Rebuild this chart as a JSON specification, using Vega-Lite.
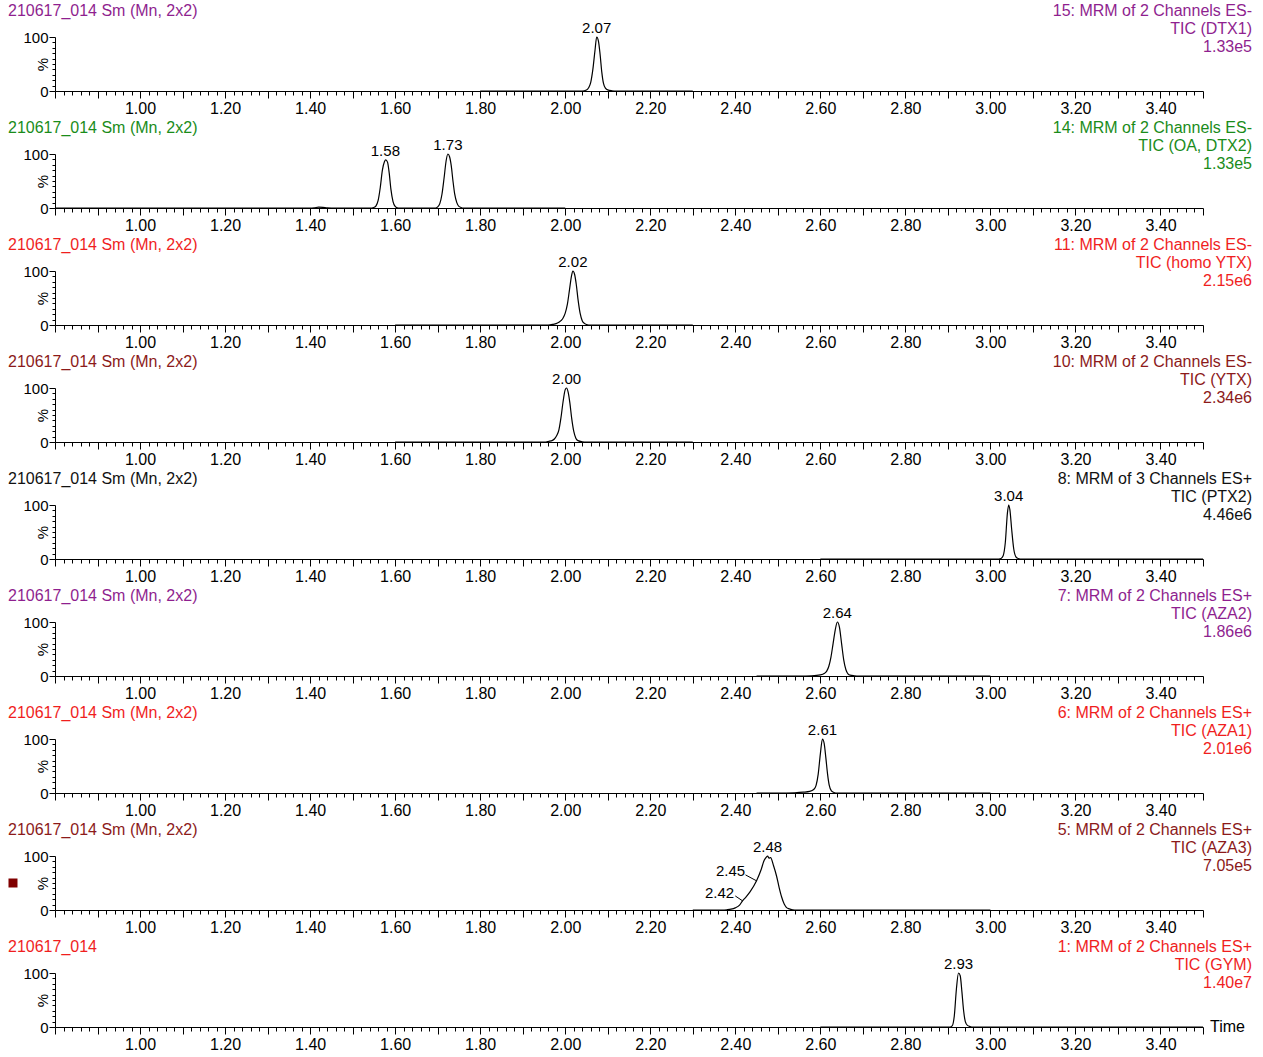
{
"$schema": "https://vega.github.io/schema/vega-lite/v6.json",
"padding": {"left": 8, "top": 3, "right": 0, "bottom": 0},
"datasets": {
"trace": [
{"p":1,"t":1.8,"v":0},{"p":1,"t":2.0,"v":0},{"p":1,"t":2.04,"v":0},{"p":1,"t":2.05,"v":2},{"p":1,"t":2.055,"v":6},{"p":1,"t":2.06,"v":16},{"p":1,"t":2.065,"v":40},{"p":1,"t":2.07,"v":75},{"p":1,"t":2.074,"v":100},{"p":1,"t":2.078,"v":93},{"p":1,"t":2.082,"v":68},{"p":1,"t":2.086,"v":35},{"p":1,"t":2.09,"v":14},{"p":1,"t":2.095,"v":5},{"p":1,"t":2.1,"v":2},{"p":1,"t":2.11,"v":0.5},{"p":1,"t":2.12,"v":0},{"p":1,"t":2.3,"v":0},
{"p":2,"t":0.8,"v":0},{"p":2,"t":1.4,"v":0},{"p":2,"t":1.41,"v":0.5},{"p":2,"t":1.42,"v":1.5},{"p":2,"t":1.43,"v":1.2},{"p":2,"t":1.44,"v":0.3},{"p":2,"t":1.45,"v":0},{"p":2,"t":1.545,"v":0},{"p":2,"t":1.55,"v":1},{"p":2,"t":1.555,"v":4},{"p":2,"t":1.56,"v":14},{"p":2,"t":1.565,"v":38},{"p":2,"t":1.57,"v":70},{"p":2,"t":1.575,"v":86},{"p":2,"t":1.578,"v":89},{"p":2,"t":1.582,"v":85},{"p":2,"t":1.586,"v":65},{"p":2,"t":1.59,"v":35},{"p":2,"t":1.595,"v":12},{"p":2,"t":1.6,"v":3},{"p":2,"t":1.605,"v":0.5},{"p":2,"t":1.61,"v":0},{"p":2,"t":1.695,"v":0},{"p":2,"t":1.7,"v":2},{"p":2,"t":1.705,"v":8},{"p":2,"t":1.71,"v":25},{"p":2,"t":1.715,"v":55},{"p":2,"t":1.72,"v":88},{"p":2,"t":1.724,"v":100},{"p":2,"t":1.728,"v":95},{"p":2,"t":1.732,"v":78},{"p":2,"t":1.736,"v":50},{"p":2,"t":1.74,"v":26},{"p":2,"t":1.745,"v":10},{"p":2,"t":1.75,"v":3},{"p":2,"t":1.755,"v":1},{"p":2,"t":1.76,"v":0},{"p":2,"t":2.0,"v":0},
{"p":3,"t":1.6,"v":0},{"p":3,"t":1.96,"v":0},{"p":3,"t":1.97,"v":1},{"p":3,"t":1.98,"v":3},{"p":3,"t":1.99,"v":8},{"p":3,"t":1.995,"v":13},{"p":3,"t":2.0,"v":22},{"p":3,"t":2.005,"v":38},{"p":3,"t":2.01,"v":65},{"p":3,"t":2.015,"v":92},{"p":3,"t":2.018,"v":100},{"p":3,"t":2.022,"v":94},{"p":3,"t":2.026,"v":75},{"p":3,"t":2.03,"v":48},{"p":3,"t":2.035,"v":22},{"p":3,"t":2.04,"v":8},{"p":3,"t":2.045,"v":3},{"p":3,"t":2.05,"v":1},{"p":3,"t":2.06,"v":0},{"p":3,"t":2.3,"v":0},
{"p":4,"t":1.6,"v":0},{"p":4,"t":1.955,"v":0},{"p":4,"t":1.96,"v":1},{"p":4,"t":1.97,"v":3},{"p":4,"t":1.975,"v":6},{"p":4,"t":1.98,"v":12},{"p":4,"t":1.985,"v":22},{"p":4,"t":1.99,"v":45},{"p":4,"t":1.995,"v":75},{"p":4,"t":2.0,"v":97},{"p":4,"t":2.003,"v":100},{"p":4,"t":2.007,"v":92},{"p":4,"t":2.011,"v":72},{"p":4,"t":2.015,"v":45},{"p":4,"t":2.02,"v":20},{"p":4,"t":2.025,"v":7},{"p":4,"t":2.03,"v":2.5},{"p":4,"t":2.04,"v":0.5},{"p":4,"t":2.05,"v":0},{"p":4,"t":2.3,"v":0},
{"p":5,"t":2.6,"v":0},{"p":5,"t":3.02,"v":0},{"p":5,"t":3.025,"v":1},{"p":5,"t":3.03,"v":6},{"p":5,"t":3.035,"v":30},{"p":5,"t":3.04,"v":85},{"p":5,"t":3.043,"v":100},{"p":5,"t":3.046,"v":90},{"p":5,"t":3.05,"v":55},{"p":5,"t":3.055,"v":18},{"p":5,"t":3.06,"v":4},{"p":5,"t":3.065,"v":1},{"p":5,"t":3.07,"v":0},{"p":5,"t":3.5,"v":0},
{"p":6,"t":2.45,"v":0},{"p":6,"t":2.55,"v":0},{"p":6,"t":2.58,"v":0.5},{"p":6,"t":2.6,"v":2},{"p":6,"t":2.61,"v":5},{"p":6,"t":2.615,"v":9},{"p":6,"t":2.62,"v":18},{"p":6,"t":2.625,"v":35},{"p":6,"t":2.63,"v":60},{"p":6,"t":2.635,"v":85},{"p":6,"t":2.64,"v":100},{"p":6,"t":2.645,"v":90},{"p":6,"t":2.65,"v":60},{"p":6,"t":2.655,"v":30},{"p":6,"t":2.66,"v":12},{"p":6,"t":2.665,"v":4},{"p":6,"t":2.67,"v":1.5},{"p":6,"t":2.68,"v":0.5},{"p":6,"t":2.69,"v":0},{"p":6,"t":3.0,"v":0},
{"p":7,"t":2.45,"v":0},{"p":7,"t":2.5,"v":0},{"p":7,"t":2.54,"v":0.5},{"p":7,"t":2.56,"v":1.5},{"p":7,"t":2.575,"v":3},{"p":7,"t":2.585,"v":7},{"p":7,"t":2.59,"v":14},{"p":7,"t":2.595,"v":35},{"p":7,"t":2.6,"v":72},{"p":7,"t":2.605,"v":100},{"p":7,"t":2.609,"v":92},{"p":7,"t":2.613,"v":65},{"p":7,"t":2.617,"v":35},{"p":7,"t":2.621,"v":14},{"p":7,"t":2.626,"v":4},{"p":7,"t":2.632,"v":1},{"p":7,"t":2.64,"v":0},{"p":7,"t":3.0,"v":0},
{"p":8,"t":2.3,"v":0},{"p":8,"t":2.37,"v":0},{"p":8,"t":2.38,"v":0.5},{"p":8,"t":2.39,"v":1.5},{"p":8,"t":2.4,"v":4},{"p":8,"t":2.41,"v":9},{"p":8,"t":2.417,"v":17},{"p":8,"t":2.425,"v":24},{"p":8,"t":2.435,"v":34},{"p":8,"t":2.45,"v":54},{"p":8,"t":2.46,"v":73},{"p":8,"t":2.468,"v":92},{"p":8,"t":2.473,"v":98},{"p":8,"t":2.476,"v":100},{"p":8,"t":2.479,"v":96},{"p":8,"t":2.483,"v":97},{"p":8,"t":2.49,"v":82},{"p":8,"t":2.497,"v":63},{"p":8,"t":2.503,"v":42},{"p":8,"t":2.509,"v":24},{"p":8,"t":2.515,"v":11},{"p":8,"t":2.52,"v":5},{"p":8,"t":2.527,"v":2},{"p":8,"t":2.535,"v":0.5},{"p":8,"t":2.545,"v":0},{"p":8,"t":3.0,"v":0},
{"p":9,"t":2.6,"v":0},{"p":9,"t":2.905,"v":0},{"p":9,"t":2.91,"v":2},{"p":9,"t":2.915,"v":20},{"p":9,"t":2.92,"v":70},{"p":9,"t":2.925,"v":100},{"p":9,"t":2.929,"v":95},{"p":9,"t":2.933,"v":65},{"p":9,"t":2.937,"v":30},{"p":9,"t":2.941,"v":10},{"p":9,"t":2.946,"v":3},{"p":9,"t":2.952,"v":1},{"p":9,"t":2.96,"v":0},{"p":9,"t":3.5,"v":0}
],
"peaks": [
{"p":1,"t":2.074,"v":100,"label":"2.07"},
{"p":2,"t":1.577,"v":89,"label":"1.58"},
{"p":2,"t":1.724,"v":100,"label":"1.73"},
{"p":3,"t":2.018,"v":100,"label":"2.02"},
{"p":4,"t":2.003,"v":100,"label":"2.00"},
{"p":5,"t":3.043,"v":100,"label":"3.04"},
{"p":6,"t":2.64,"v":100,"label":"2.64"},
{"p":7,"t":2.605,"v":100,"label":"2.61"},
{"p":8,"t":2.476,"v":100,"label":"2.48"},
{"p":9,"t":2.925,"v":100,"label":"2.93"}
],
"shoulders": [
{"p":8,"t":2.45,"v":54,"label":"2.45"},
{"p":8,"t":2.417,"v":17,"label":"2.42"}
]
},
"config": {
"view": {"stroke": null},
"font": "Liberation Sans",
"axis": {"labelFont": "Liberation Sans", "titleFont": "Liberation Sans", "domainColor": "black", "tickColor": "black", "labelColor": "black", "titleColor": "black", "grid": false, "domainWidth": 1, "tickWidth": 1},
"text": {"font": "Liberation Sans"},
"concat": {"spacing": 4}
},
"vconcat": [
{"width": 1148, "height": 54, "layer": [
{"data": {"name": "trace"}, "transform": [{"filter": "datum.p == 1"}], "mark": {"type": "line", "color": "black", "strokeWidth": 1.2, "interpolate": "monotone"},
 "encoding": {"x": {"field": "t", "type": "quantitative", "scale": {"domain": [0.8, 3.5], "nice": false, "zero": false}, "axis": {"title": null, "tickCount": 135, "labelFontSize": 16, "labelOverlap": false, "labelFlush": false, "labelPadding": 2, "tickSize": {"condition": {"test": "abs(datum.value*10 - round(datum.value*10)) < 0.001", "value": 7}, "value": 4}, "labelExpr": "abs(datum.value*5 - round(datum.value*5)) < 0.001 && datum.value > 0.85 ? format(datum.value, '.2f') : ''"}},
  "y": {"field": "v", "type": "quantitative", "scale": {"domain": [0, 100], "nice": false}, "axis": {"title": "%", "tickCount": 10, "labelFontSize": 15, "labelFlush": false, "labelOverlap": false, "labelPadding": 1, "labelExpr": "datum.value == 0 || datum.value == 100 ? datum.label : ''", "tickSize": {"condition": {"test": "datum.value == 0 || datum.value == 100", "value": 6}, "value": 3}, "titleFontSize": 15, "titleFontWeight": "normal", "titleAngle": 270, "titleX": -13, "titleY": 27, "titleAlign": "center", "titleBaseline": "middle"}}}},
{"data": {"name": "peaks"}, "transform": [{"filter": "datum.p == 1"}], "mark": {"type": "text", "baseline": "alphabetic", "dy": -4, "fontSize": 15, "color": "black"}, "encoding": {"x": {"field": "t", "type": "quantitative"}, "y": {"field": "v", "type": "quantitative"}, "text": {"field": "label"}}},
{"data": {"values": [{}]}, "mark": {"type": "text", "align": "left", "baseline": "middle", "fontSize": 16, "color": "#8f1f8f"}, "encoding": {"x": {"datum": 0.6895}, "y": {"datum": 148}, "text": {"value": "210617_014 Sm (Mn, 2x2)"}}},
{"data": {"values": [{}]}, "mark": {"type": "text", "align": "right", "baseline": "middle", "fontSize": 16, "lineHeight": 18, "color": "#8f1f8f"}, "encoding": {"x": {"datum": 3.6152}, "y": {"datum": 148}, "text": {"value": ["15: MRM of 2 Channels ES-", "TIC (DTX1)", "1.33e5"]}}}
]},
{"width": 1148, "height": 54, "layer": [
{"data": {"name": "trace"}, "transform": [{"filter": "datum.p == 2"}], "mark": {"type": "line", "color": "black", "strokeWidth": 1.2, "interpolate": "monotone"},
 "encoding": {"x": {"field": "t", "type": "quantitative", "scale": {"domain": [0.8, 3.5], "nice": false, "zero": false}, "axis": {"title": null, "tickCount": 135, "labelFontSize": 16, "labelOverlap": false, "labelFlush": false, "labelPadding": 2, "tickSize": {"condition": {"test": "abs(datum.value*10 - round(datum.value*10)) < 0.001", "value": 7}, "value": 4}, "labelExpr": "abs(datum.value*5 - round(datum.value*5)) < 0.001 && datum.value > 0.85 ? format(datum.value, '.2f') : ''"}},
  "y": {"field": "v", "type": "quantitative", "scale": {"domain": [0, 100], "nice": false}, "axis": {"title": "%", "tickCount": 10, "labelFontSize": 15, "labelFlush": false, "labelOverlap": false, "labelPadding": 1, "labelExpr": "datum.value == 0 || datum.value == 100 ? datum.label : ''", "tickSize": {"condition": {"test": "datum.value == 0 || datum.value == 100", "value": 6}, "value": 3}, "titleFontSize": 15, "titleFontWeight": "normal", "titleAngle": 270, "titleX": -13, "titleY": 27, "titleAlign": "center", "titleBaseline": "middle"}}}},
{"data": {"name": "peaks"}, "transform": [{"filter": "datum.p == 2"}], "mark": {"type": "text", "baseline": "alphabetic", "dy": -4, "fontSize": 15, "color": "black"}, "encoding": {"x": {"field": "t", "type": "quantitative"}, "y": {"field": "v", "type": "quantitative"}, "text": {"field": "label"}}},
{"data": {"values": [{}]}, "mark": {"type": "text", "align": "left", "baseline": "middle", "fontSize": 16, "color": "#1a8c1a"}, "encoding": {"x": {"datum": 0.6895}, "y": {"datum": 148}, "text": {"value": "210617_014 Sm (Mn, 2x2)"}}},
{"data": {"values": [{}]}, "mark": {"type": "text", "align": "right", "baseline": "middle", "fontSize": 16, "lineHeight": 18, "color": "#1a8c1a"}, "encoding": {"x": {"datum": 3.6152}, "y": {"datum": 148}, "text": {"value": ["14: MRM of 2 Channels ES-", "TIC (OA, DTX2)", "1.33e5"]}}}
]},
{"width": 1148, "height": 54, "layer": [
{"data": {"name": "trace"}, "transform": [{"filter": "datum.p == 3"}], "mark": {"type": "line", "color": "black", "strokeWidth": 1.2, "interpolate": "monotone"},
 "encoding": {"x": {"field": "t", "type": "quantitative", "scale": {"domain": [0.8, 3.5], "nice": false, "zero": false}, "axis": {"title": null, "tickCount": 135, "labelFontSize": 16, "labelOverlap": false, "labelFlush": false, "labelPadding": 2, "tickSize": {"condition": {"test": "abs(datum.value*10 - round(datum.value*10)) < 0.001", "value": 7}, "value": 4}, "labelExpr": "abs(datum.value*5 - round(datum.value*5)) < 0.001 && datum.value > 0.85 ? format(datum.value, '.2f') : ''"}},
  "y": {"field": "v", "type": "quantitative", "scale": {"domain": [0, 100], "nice": false}, "axis": {"title": "%", "tickCount": 10, "labelFontSize": 15, "labelFlush": false, "labelOverlap": false, "labelPadding": 1, "labelExpr": "datum.value == 0 || datum.value == 100 ? datum.label : ''", "tickSize": {"condition": {"test": "datum.value == 0 || datum.value == 100", "value": 6}, "value": 3}, "titleFontSize": 15, "titleFontWeight": "normal", "titleAngle": 270, "titleX": -13, "titleY": 27, "titleAlign": "center", "titleBaseline": "middle"}}}},
{"data": {"name": "peaks"}, "transform": [{"filter": "datum.p == 3"}], "mark": {"type": "text", "baseline": "alphabetic", "dy": -4, "fontSize": 15, "color": "black"}, "encoding": {"x": {"field": "t", "type": "quantitative"}, "y": {"field": "v", "type": "quantitative"}, "text": {"field": "label"}}},
{"data": {"values": [{}]}, "mark": {"type": "text", "align": "left", "baseline": "middle", "fontSize": 16, "color": "#f01e1e"}, "encoding": {"x": {"datum": 0.6895}, "y": {"datum": 148}, "text": {"value": "210617_014 Sm (Mn, 2x2)"}}},
{"data": {"values": [{}]}, "mark": {"type": "text", "align": "right", "baseline": "middle", "fontSize": 16, "lineHeight": 18, "color": "#f01e1e"}, "encoding": {"x": {"datum": 3.6152}, "y": {"datum": 148}, "text": {"value": ["11: MRM of 2 Channels ES-", "TIC (homo YTX)", "2.15e6"]}}}
]},
{"width": 1148, "height": 54, "layer": [
{"data": {"name": "trace"}, "transform": [{"filter": "datum.p == 4"}], "mark": {"type": "line", "color": "black", "strokeWidth": 1.2, "interpolate": "monotone"},
 "encoding": {"x": {"field": "t", "type": "quantitative", "scale": {"domain": [0.8, 3.5], "nice": false, "zero": false}, "axis": {"title": null, "tickCount": 135, "labelFontSize": 16, "labelOverlap": false, "labelFlush": false, "labelPadding": 2, "tickSize": {"condition": {"test": "abs(datum.value*10 - round(datum.value*10)) < 0.001", "value": 7}, "value": 4}, "labelExpr": "abs(datum.value*5 - round(datum.value*5)) < 0.001 && datum.value > 0.85 ? format(datum.value, '.2f') : ''"}},
  "y": {"field": "v", "type": "quantitative", "scale": {"domain": [0, 100], "nice": false}, "axis": {"title": "%", "tickCount": 10, "labelFontSize": 15, "labelFlush": false, "labelOverlap": false, "labelPadding": 1, "labelExpr": "datum.value == 0 || datum.value == 100 ? datum.label : ''", "tickSize": {"condition": {"test": "datum.value == 0 || datum.value == 100", "value": 6}, "value": 3}, "titleFontSize": 15, "titleFontWeight": "normal", "titleAngle": 270, "titleX": -13, "titleY": 27, "titleAlign": "center", "titleBaseline": "middle"}}}},
{"data": {"name": "peaks"}, "transform": [{"filter": "datum.p == 4"}], "mark": {"type": "text", "baseline": "alphabetic", "dy": -4, "fontSize": 15, "color": "black"}, "encoding": {"x": {"field": "t", "type": "quantitative"}, "y": {"field": "v", "type": "quantitative"}, "text": {"field": "label"}}},
{"data": {"values": [{}]}, "mark": {"type": "text", "align": "left", "baseline": "middle", "fontSize": 16, "color": "#8c1a1a"}, "encoding": {"x": {"datum": 0.6895}, "y": {"datum": 148}, "text": {"value": "210617_014 Sm (Mn, 2x2)"}}},
{"data": {"values": [{}]}, "mark": {"type": "text", "align": "right", "baseline": "middle", "fontSize": 16, "lineHeight": 18, "color": "#8c1a1a"}, "encoding": {"x": {"datum": 3.6152}, "y": {"datum": 148}, "text": {"value": ["10: MRM of 2 Channels ES-", "TIC (YTX)", "2.34e6"]}}}
]},
{"width": 1148, "height": 54, "layer": [
{"data": {"name": "trace"}, "transform": [{"filter": "datum.p == 5"}], "mark": {"type": "line", "color": "black", "strokeWidth": 1.2, "interpolate": "monotone"},
 "encoding": {"x": {"field": "t", "type": "quantitative", "scale": {"domain": [0.8, 3.5], "nice": false, "zero": false}, "axis": {"title": null, "tickCount": 135, "labelFontSize": 16, "labelOverlap": false, "labelFlush": false, "labelPadding": 2, "tickSize": {"condition": {"test": "abs(datum.value*10 - round(datum.value*10)) < 0.001", "value": 7}, "value": 4}, "labelExpr": "abs(datum.value*5 - round(datum.value*5)) < 0.001 && datum.value > 0.85 ? format(datum.value, '.2f') : ''"}},
  "y": {"field": "v", "type": "quantitative", "scale": {"domain": [0, 100], "nice": false}, "axis": {"title": "%", "tickCount": 10, "labelFontSize": 15, "labelFlush": false, "labelOverlap": false, "labelPadding": 1, "labelExpr": "datum.value == 0 || datum.value == 100 ? datum.label : ''", "tickSize": {"condition": {"test": "datum.value == 0 || datum.value == 100", "value": 6}, "value": 3}, "titleFontSize": 15, "titleFontWeight": "normal", "titleAngle": 270, "titleX": -13, "titleY": 27, "titleAlign": "center", "titleBaseline": "middle"}}}},
{"data": {"name": "peaks"}, "transform": [{"filter": "datum.p == 5"}], "mark": {"type": "text", "baseline": "alphabetic", "dy": -4, "fontSize": 15, "color": "black"}, "encoding": {"x": {"field": "t", "type": "quantitative"}, "y": {"field": "v", "type": "quantitative"}, "text": {"field": "label"}}},
{"data": {"values": [{}]}, "mark": {"type": "text", "align": "left", "baseline": "middle", "fontSize": 16, "color": "#111111"}, "encoding": {"x": {"datum": 0.6895}, "y": {"datum": 148}, "text": {"value": "210617_014 Sm (Mn, 2x2)"}}},
{"data": {"values": [{}]}, "mark": {"type": "text", "align": "right", "baseline": "middle", "fontSize": 16, "lineHeight": 18, "color": "#111111"}, "encoding": {"x": {"datum": 3.6152}, "y": {"datum": 148}, "text": {"value": ["8: MRM of 3 Channels ES+", "TIC (PTX2)", "4.46e6"]}}}
]},
{"width": 1148, "height": 54, "layer": [
{"data": {"name": "trace"}, "transform": [{"filter": "datum.p == 6"}], "mark": {"type": "line", "color": "black", "strokeWidth": 1.2, "interpolate": "monotone"},
 "encoding": {"x": {"field": "t", "type": "quantitative", "scale": {"domain": [0.8, 3.5], "nice": false, "zero": false}, "axis": {"title": null, "tickCount": 135, "labelFontSize": 16, "labelOverlap": false, "labelFlush": false, "labelPadding": 2, "tickSize": {"condition": {"test": "abs(datum.value*10 - round(datum.value*10)) < 0.001", "value": 7}, "value": 4}, "labelExpr": "abs(datum.value*5 - round(datum.value*5)) < 0.001 && datum.value > 0.85 ? format(datum.value, '.2f') : ''"}},
  "y": {"field": "v", "type": "quantitative", "scale": {"domain": [0, 100], "nice": false}, "axis": {"title": "%", "tickCount": 10, "labelFontSize": 15, "labelFlush": false, "labelOverlap": false, "labelPadding": 1, "labelExpr": "datum.value == 0 || datum.value == 100 ? datum.label : ''", "tickSize": {"condition": {"test": "datum.value == 0 || datum.value == 100", "value": 6}, "value": 3}, "titleFontSize": 15, "titleFontWeight": "normal", "titleAngle": 270, "titleX": -13, "titleY": 27, "titleAlign": "center", "titleBaseline": "middle"}}}},
{"data": {"name": "peaks"}, "transform": [{"filter": "datum.p == 6"}], "mark": {"type": "text", "baseline": "alphabetic", "dy": -4, "fontSize": 15, "color": "black"}, "encoding": {"x": {"field": "t", "type": "quantitative"}, "y": {"field": "v", "type": "quantitative"}, "text": {"field": "label"}}},
{"data": {"values": [{}]}, "mark": {"type": "text", "align": "left", "baseline": "middle", "fontSize": 16, "color": "#8f1f8f"}, "encoding": {"x": {"datum": 0.6895}, "y": {"datum": 148}, "text": {"value": "210617_014 Sm (Mn, 2x2)"}}},
{"data": {"values": [{}]}, "mark": {"type": "text", "align": "right", "baseline": "middle", "fontSize": 16, "lineHeight": 18, "color": "#8f1f8f"}, "encoding": {"x": {"datum": 3.6152}, "y": {"datum": 148}, "text": {"value": ["7: MRM of 2 Channels ES+", "TIC (AZA2)", "1.86e6"]}}}
]},
{"width": 1148, "height": 54, "layer": [
{"data": {"name": "trace"}, "transform": [{"filter": "datum.p == 7"}], "mark": {"type": "line", "color": "black", "strokeWidth": 1.2, "interpolate": "monotone"},
 "encoding": {"x": {"field": "t", "type": "quantitative", "scale": {"domain": [0.8, 3.5], "nice": false, "zero": false}, "axis": {"title": null, "tickCount": 135, "labelFontSize": 16, "labelOverlap": false, "labelFlush": false, "labelPadding": 2, "tickSize": {"condition": {"test": "abs(datum.value*10 - round(datum.value*10)) < 0.001", "value": 7}, "value": 4}, "labelExpr": "abs(datum.value*5 - round(datum.value*5)) < 0.001 && datum.value > 0.85 ? format(datum.value, '.2f') : ''"}},
  "y": {"field": "v", "type": "quantitative", "scale": {"domain": [0, 100], "nice": false}, "axis": {"title": "%", "tickCount": 10, "labelFontSize": 15, "labelFlush": false, "labelOverlap": false, "labelPadding": 1, "labelExpr": "datum.value == 0 || datum.value == 100 ? datum.label : ''", "tickSize": {"condition": {"test": "datum.value == 0 || datum.value == 100", "value": 6}, "value": 3}, "titleFontSize": 15, "titleFontWeight": "normal", "titleAngle": 270, "titleX": -13, "titleY": 27, "titleAlign": "center", "titleBaseline": "middle"}}}},
{"data": {"name": "peaks"}, "transform": [{"filter": "datum.p == 7"}], "mark": {"type": "text", "baseline": "alphabetic", "dy": -4, "fontSize": 15, "color": "black"}, "encoding": {"x": {"field": "t", "type": "quantitative"}, "y": {"field": "v", "type": "quantitative"}, "text": {"field": "label"}}},
{"data": {"values": [{}]}, "mark": {"type": "text", "align": "left", "baseline": "middle", "fontSize": 16, "color": "#f01e1e"}, "encoding": {"x": {"datum": 0.6895}, "y": {"datum": 148}, "text": {"value": "210617_014 Sm (Mn, 2x2)"}}},
{"data": {"values": [{}]}, "mark": {"type": "text", "align": "right", "baseline": "middle", "fontSize": 16, "lineHeight": 18, "color": "#f01e1e"}, "encoding": {"x": {"datum": 3.6152}, "y": {"datum": 148}, "text": {"value": ["6: MRM of 2 Channels ES+", "TIC (AZA1)", "2.01e6"]}}}
]},
{"width": 1148, "height": 54, "layer": [
{"data": {"name": "trace"}, "transform": [{"filter": "datum.p == 8"}], "mark": {"type": "line", "color": "black", "strokeWidth": 1.2, "interpolate": "monotone"},
 "encoding": {"x": {"field": "t", "type": "quantitative", "scale": {"domain": [0.8, 3.5], "nice": false, "zero": false}, "axis": {"title": null, "tickCount": 135, "labelFontSize": 16, "labelOverlap": false, "labelFlush": false, "labelPadding": 2, "tickSize": {"condition": {"test": "abs(datum.value*10 - round(datum.value*10)) < 0.001", "value": 7}, "value": 4}, "labelExpr": "abs(datum.value*5 - round(datum.value*5)) < 0.001 && datum.value > 0.85 ? format(datum.value, '.2f') : ''"}},
  "y": {"field": "v", "type": "quantitative", "scale": {"domain": [0, 100], "nice": false}, "axis": {"title": "%", "tickCount": 10, "labelFontSize": 15, "labelFlush": false, "labelOverlap": false, "labelPadding": 1, "labelExpr": "datum.value == 0 || datum.value == 100 ? datum.label : ''", "tickSize": {"condition": {"test": "datum.value == 0 || datum.value == 100", "value": 6}, "value": 3}, "titleFontSize": 15, "titleFontWeight": "normal", "titleAngle": 270, "titleX": -13, "titleY": 27, "titleAlign": "center", "titleBaseline": "middle"}}}},
{"data": {"name": "peaks"}, "transform": [{"filter": "datum.p == 8"}], "mark": {"type": "text", "baseline": "alphabetic", "dy": -4, "fontSize": 15, "color": "black"}, "encoding": {"x": {"field": "t", "type": "quantitative"}, "y": {"field": "v", "type": "quantitative"}, "text": {"field": "label"}}},
{"data": {"name": "shoulders"}, "transform": [{"filter": "datum.label == '2.45'"}], "mark": {"type": "text", "align": "center", "baseline": "middle", "dx": -26, "dy": -10, "fontSize": 15, "color": "black"}, "encoding": {"x": {"field": "t", "type": "quantitative"}, "y": {"field": "v", "type": "quantitative"}, "text": {"field": "label"}}},
{"data": {"name": "shoulders"}, "transform": [{"filter": "datum.label == '2.42'"}], "mark": {"type": "text", "align": "center", "baseline": "middle", "dx": -23, "dy": -8, "fontSize": 15, "color": "black"}, "encoding": {"x": {"field": "t", "type": "quantitative"}, "y": {"field": "v", "type": "quantitative"}, "text": {"field": "label"}}},
{"data": {"values": [{}]}, "mark": {"type": "rule", "color": "black", "strokeWidth": 1}, "encoding": {"x": {"datum": 2.424}, "y": {"datum": 65}, "x2": {"datum": 2.45}, "y2": {"datum": 54}}},
{"data": {"values": [{}]}, "mark": {"type": "rule", "color": "black", "strokeWidth": 1}, "encoding": {"x": {"datum": 2.4}, "y": {"datum": 26}, "x2": {"datum": 2.417}, "y2": {"datum": 17}}},
{"data": {"values": [{}]}, "mark": {"type": "square", "size": 81, "color": "#800000", "opacity": 1, "filled": true}, "encoding": {"x": {"datum": 0.7012}, "y": {"datum": 50}}},
{"data": {"values": [{}]}, "mark": {"type": "text", "align": "left", "baseline": "middle", "fontSize": 16, "color": "#8c1a1a"}, "encoding": {"x": {"datum": 0.6895}, "y": {"datum": 148}, "text": {"value": "210617_014 Sm (Mn, 2x2)"}}},
{"data": {"values": [{}]}, "mark": {"type": "text", "align": "right", "baseline": "middle", "fontSize": 16, "lineHeight": 18, "color": "#8c1a1a"}, "encoding": {"x": {"datum": 3.6152}, "y": {"datum": 148}, "text": {"value": ["5: MRM of 2 Channels ES+", "TIC (AZA3)", "7.05e5"]}}}
]},
{"width": 1148, "height": 54, "layer": [
{"data": {"name": "trace"}, "transform": [{"filter": "datum.p == 9"}], "mark": {"type": "line", "color": "black", "strokeWidth": 1.2, "interpolate": "monotone"},
 "encoding": {"x": {"field": "t", "type": "quantitative", "scale": {"domain": [0.8, 3.5], "nice": false, "zero": false}, "axis": {"title": null, "tickCount": 135, "labelFontSize": 16, "labelOverlap": false, "labelFlush": false, "labelPadding": 2, "tickSize": {"condition": {"test": "abs(datum.value*10 - round(datum.value*10)) < 0.001", "value": 7}, "value": 4}, "labelExpr": "abs(datum.value*5 - round(datum.value*5)) < 0.001 && datum.value > 0.85 ? format(datum.value, '.2f') : ''"}},
  "y": {"field": "v", "type": "quantitative", "scale": {"domain": [0, 100], "nice": false}, "axis": {"title": "%", "tickCount": 10, "labelFontSize": 15, "labelFlush": false, "labelOverlap": false, "labelPadding": 1, "labelExpr": "datum.value == 0 || datum.value == 100 ? datum.label : ''", "tickSize": {"condition": {"test": "datum.value == 0 || datum.value == 100", "value": 6}, "value": 3}, "titleFontSize": 15, "titleFontWeight": "normal", "titleAngle": 270, "titleX": -13, "titleY": 27, "titleAlign": "center", "titleBaseline": "middle"}}}},
{"data": {"name": "peaks"}, "transform": [{"filter": "datum.p == 9"}], "mark": {"type": "text", "baseline": "alphabetic", "dy": -4, "fontSize": 15, "color": "black"}, "encoding": {"x": {"field": "t", "type": "quantitative"}, "y": {"field": "v", "type": "quantitative"}, "text": {"field": "label"}}},
{"data": {"values": [{}]}, "mark": {"type": "text", "align": "left", "baseline": "middle", "fontSize": 16, "color": "#f01e1e"}, "encoding": {"x": {"datum": 0.6895}, "y": {"datum": 148}, "text": {"value": "210617_014"}}},
{"data": {"values": [{}]}, "mark": {"type": "text", "align": "right", "baseline": "middle", "fontSize": 16, "lineHeight": 18, "color": "#f01e1e"}, "encoding": {"x": {"datum": 3.6152}, "y": {"datum": 148}, "text": {"value": ["1: MRM of 2 Channels ES+", "TIC (GYM)", "1.40e7"]}}},
{"data": {"values": [{}]}, "mark": {"type": "text", "align": "left", "baseline": "middle", "fontSize": 16, "color": "black"}, "encoding": {"x": {"datum": 3.5165}, "y": {"datum": 0}, "text": {"value": "Time"}}}
]}
]
}
